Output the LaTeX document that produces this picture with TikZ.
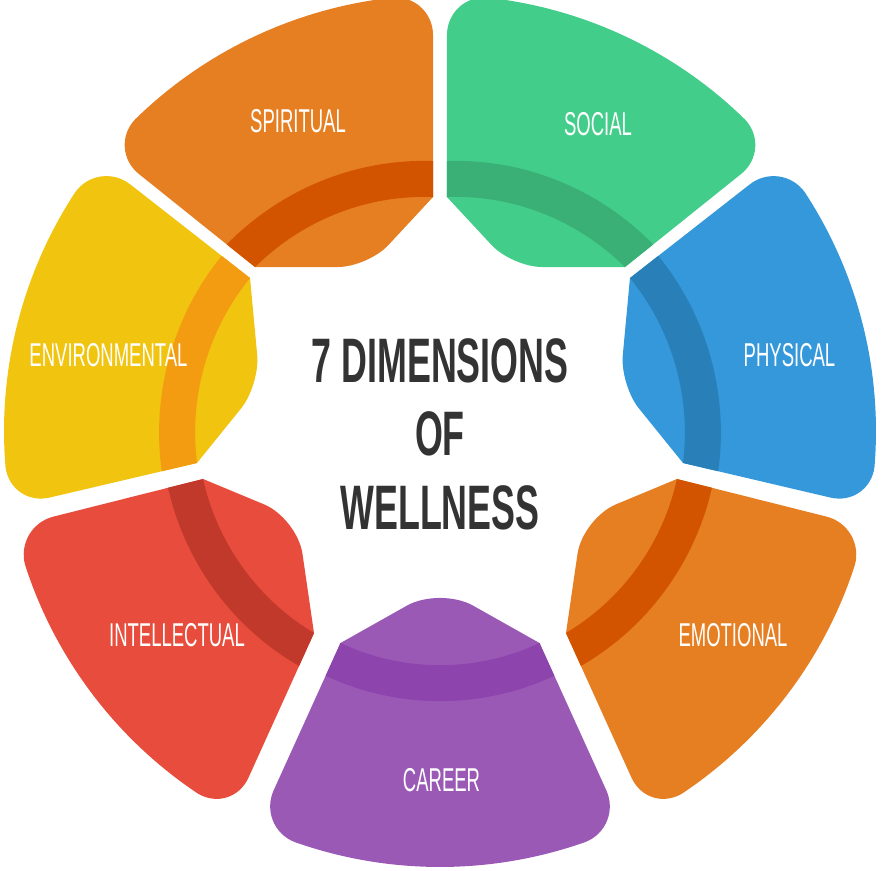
\documentclass[tikz,border=0pt]{standalone}
\usepackage{fontspec}
\newfontfamily\labelfont{Liberation Sans}[FakeStretch=0.56]
\newfontfamily\titlefont{Liberation Sans}[FakeStretch=0.57]
\usepackage{tikz}
\usetikzlibrary{calc}
\definecolor{spiritual}{HTML}{E67E22}
\definecolor{spiritualband}{HTML}{D35400}
\definecolor{social}{HTML}{42CD8A}
\definecolor{socialband}{HTML}{3AAF76}
\definecolor{physical}{HTML}{3498DB}
\definecolor{physicalband}{HTML}{2980B9}
\definecolor{emotional}{HTML}{E67E22}
\definecolor{emotionalband}{HTML}{D35400}
\definecolor{career}{HTML}{9B59B6}
\definecolor{careerband}{HTML}{8E44AD}
\definecolor{intellectual}{HTML}{E74C3C}
\definecolor{intellectualband}{HTML}{C0392B}
\definecolor{environmental}{HTML}{F1C40F}
\definecolor{environmentalband}{HTML}{F39C12}
\definecolor{titlegray}{HTML}{333333}
\tikzset{
  seglabel/.style={text=white,font=\labelfont\fontsize{23.5}{28}\selectfont},
  titletext/.style={text=titlegray,align=center,font=\titlefont\bfseries\fontsize{44.7}{52.3}\selectfont}
}
\newcommand\cornr{1.0cm}
\newcommand\cornd{5.26}
\newcommand\outr{436}
\newcommand\bandw{0.9cm}
\newcommand\wellpiece[9]{%
  \coordinate (A) at (#2:#3);
  \coordinate (B) at (#4:\outr);
  \coordinate (C) at (#5:\outr);
  \coordinate (D) at (#6:#7);
  \coordinate (E) at (#8);
  \coordinate (B1) at ($(B)!\cornr!(A)$);
  \coordinate (B2) at (#4-\cornd:\outr);
  \coordinate (C1) at (#5+\cornd:\outr);
  \coordinate (C2) at ($(C)!\cornr!(D)$);
  \coordinate (E1) at ($(E)!#9!(D)$);
  \coordinate (E2) at ($(E)!#9!(A)$);
  \begin{scope}
    \clip (A) -- (B1) .. controls ($(B1)!0.55!(B)$) and ($(B2)!0.55!(B)$) .. (B2)
      arc[start angle=#4-\cornd,end angle=#5+\cornd,radius=\outr]
      .. controls ($(C1)!0.55!(C)$) and ($(C2)!0.55!(C)$) .. (C2) -- (D) -- (E1)
      .. controls ($(E1)!0.55!(E)$) and ($(E2)!0.55!(E)$) .. (E2) -- cycle;
    \fill[#1] (-450,-450) rectangle (450,450);
    \draw[#1band,line width=\bandw] plot[domain=-0.3:1.3,samples=25,smooth]
      ({(#2)+\x*((#6)-(#2))}:{(#3)+18+\x*((#7)-(#3))});
  \end{scope}
}

\begin{document}
\begin{tikzpicture}[x=0.025cm,y=0.025cm]
\useasboundingbox (-440,-439) rectangle (442,431);
\wellpiece{social}{88.29}{234.1}{89.08}{40.32}{41.55}{247.2}{72,164}{0.75cm}
\wellpiece{physical}{38.84}{243.9}{38.48}{-10.0}{-7.50}{245.1}{180,46}{0.75cm}
\wellpiece{emotional}{-11.45}{241.8}{-12.64}{-61.5}{-58.05}{238.1}{142.7,-87.2}{0.9cm}
\wellpiece{career}{-64.86}{234.2}{-65.2}{-114.8}{-115.14}{234.2}{0,-156}{0.95cm}
\begin{scope}[xscale=-1]
\wellpiece{spiritual}{88.29}{234.1}{89.08}{40.32}{41.55}{247.2}{72,164}{0.75cm}
\wellpiece{environmental}{38.84}{243.9}{38.48}{-10.0}{-7.50}{245.1}{180,46}{0.75cm}
\wellpiece{intellectual}{-11.45}{241.8}{-12.64}{-61.5}{-58.05}{238.1}{142.7,-87.2}{0.9cm}
\end{scope}
\node[seglabel] (spirituallabel) at (-142,310) {SPIRITUAL};
\node[seglabel] (sociallabel) at (158,306.5) {SOCIAL};
\node[seglabel] (physicallabel) at (349.5,75.5) {PHYSICAL};
\node[seglabel] (emotionallabel) at (293,-204.5) {EMOTIONAL};
\node[seglabel] (careerlabel) at (1.5,-349) {CAREER};
\node[seglabel] (intellectuallabel) at (-263,-204.5) {INTELLECTUAL};
\node[seglabel] (environmentallabel) at (-331.5,76) {ENVIRONMENTAL};
\node[titletext] (title) at (0,-3) {7 DIMENSIONS\\OF\\WELLNESS};
\end{tikzpicture}
\end{document}
